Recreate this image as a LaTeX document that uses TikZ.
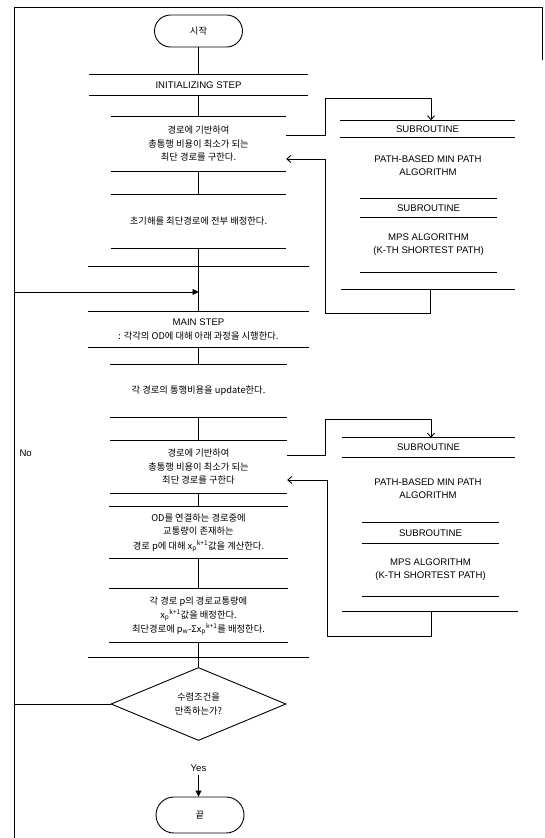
\documentclass[tikz,border=0pt]{standalone}
\usepackage{fontspec}
\setmainfont{Liberation Sans}
\newfontfamily\kr{Noto Sans CJK KR}
\newfontfamily\la{Liberation Sans}
\usetikzlibrary{arrows.meta,shapes.geometric,calc}
\newcommand\xp{x\textsubscript{p}\textsuperscript{k+1}}
\newcommand\bandlines[1]{\draw[ln] (#1.north west) -- (#1.north east) (#1.south west) -- (#1.south east);}
\begin{document}
\begin{tikzpicture}[x=1pt,y=-1pt,
  ln/.style={line width=0.9pt,draw=black},
  band/.style={draw=none,inner sep=0pt,align=center,font=\kr\fontsize{9.3}{13.5}\selectfont},
  lat/.style={font=\la\fontsize{9.6}{13}\selectfont},
  term/.style={draw,line width=0.9pt,rounded corners=16pt,minimum width=88pt,minimum height=32pt,inner sep=0pt,font=\kr\fontsize{9.3}{12}\selectfont},
  barb/.style={-{Straight Barb[length=4pt,width=7pt]}},
  tri/.style={-{Triangle[length=6pt,width=6pt]}},
]
\useasboundingbox[fill=white] (0,0) rectangle (544,838);
% frame
\draw[ln] (14,838) -- (14,7) -- (542,7) -- (542,60);

% main column
\node[term] (start) at (198.5,31) {시작};
\node[band,lat,minimum width=218pt,minimum height=20pt] (init) at (198.5,85) {INITIALIZING STEP};
\bandlines{init}
\node[band,minimum width=175pt,minimum height=54pt] (b1) at (198.5,144) {경로에 기반하여\\총통행 비용이 최소가 되는\\최단 경로를 구한다.};
\bandlines{b1}
\node[band,minimum width=175pt,minimum height=53pt] (b2) at (198.5,221.5) {초기해를 최단경로에 전부 배정한다.};
\bandlines{b2}
\node[band,minimum width=220pt,minimum height=45pt] (jn) at (198.5,289.5) {};
\draw[ln] (jn.north west) -- (jn.north east);
\node[band,minimum width=220pt,minimum height=35pt] (main) at (198.5,329.5) {{\la\fontsize{9.6}{12}\selectfont MAIN STEP}\\: 각각의 OD에 대해 아래 과정을 시행한다.};
\bandlines{main}
\node[band,minimum width=177pt,minimum height=52pt] (b3) at (198.5,391) {각 경로의 통행비용을 update한다.};
\bandlines{b3}
\node[band,minimum width=177pt,minimum height=52pt] (b4) at (198.5,467) {경로에 기반하여\\총통행 비용이 최소가 되는\\최단 경로를 구한다};
\bandlines{b4}
\node[band,minimum width=178pt,minimum height=51pt,font=\kr\fontsize{9.3}{13.5}\selectfont] (b5) at (198.5,532.5) {OD를 연결하는 경로중에\\교통량이 존재하는\\[1pt]경로 p에 대해 \xp 값을 계산한다.};
\bandlines{b5}
\node[band,minimum width=178pt,minimum height=53pt,font=\kr\fontsize{9.3}{13}\selectfont] (b6) at (198.5,615.5) {각 경로 p의 경로교통량에\\[1pt]\xp 값을 배정한다.\\[1pt]최단경로에 p\textsubscript{w}-Σ\xp 를 배정한다.};
\bandlines{b6}
\node[band,minimum width=220pt,minimum height=0pt] (jn2) at (198.5,657) {};
\draw[ln] (jn2.west) -- (jn2.east);
\node[diamond,ln,draw,minimum width=175pt,minimum height=73pt,inner sep=0pt,aspect=2.4,align=center,font=\kr\fontsize{9.3}{13.5}\selectfont] (dia) at (198.5,704) {수렴조건을\\만족하는가?};
\node[lat] (yes) at (198.5,768) {Yes};
\node[term,minimum height=36pt,rounded corners=18pt] (end) at (200,815) {끝};
\node[lat,anchor=west] (no) at (16,453) {No};

\draw[ln] (start) -- (init);
\draw[ln] (init) -- (b1);
\draw[ln] (b1) -- (b2);
\draw[ln] (b2) -- (main);
\draw[ln] (main) -- (b3);
\draw[ln] (b3) -- (b4);
\draw[ln] (b4) -- (b5);
\draw[ln] (b5) -- (b6);
\draw[ln] (b6) -- (dia);
\draw[ln,tri] (yes) -- (yes |- end.north);
\coordinate (nl) at (14,292);
\coordinate (m) at (198.5,292);
\draw[ln,tri] (dia.west) -| (nl) -- (m);

% right panel 1
\node[band,lat,minimum width=175pt,minimum height=17pt] (p1h) at (427.5,129) {SUBROUTINE};
\bandlines{p1h}
\node[band,lat,minimum width=137pt,minimum height=30pt] (p1a) at (428,165.5) {PATH-BASED MIN PATH\\ALGORITHM};
\node[band,lat,minimum width=137pt,minimum height=18pt] (p1s) at (428.5,208) {SUBROUTINE};
\bandlines{p1s}
\node[band,lat,minimum width=137pt,minimum height=55pt] (p1m) at (428.5,244.5) {MPS ALGORITHM\\(K-TH SHORTEST PATH)};
\draw[ln] (p1m.south west) -- (p1m.south east);
\node[band,minimum width=174pt,minimum height=0pt] (p1b) at (428,289) {};
\draw[ln] (p1b.west) -- (p1b.east);

\coordinate (r1) at (325,98);
\draw[ln,barb] ([yshift=9pt]b1.east) -| (r1) -| ([xshift=3.5pt]p1h.north);
\coordinate (r2) at (325,313);
\draw[ln,barb] ([xshift=2pt]p1b.center) |- (r2) |- ([yshift=-15pt]b1.east);

% right panel 2
\node[band,lat,minimum width=173pt,minimum height=19pt] (p2h) at (428.5,447.5) {SUBROUTINE};
\bandlines{p2h}
\node[band,lat,minimum width=137pt,minimum height=30pt] (p2a) at (428,488.5) {PATH-BASED MIN PATH\\ALGORITHM};
\node[band,lat,minimum width=137pt,minimum height=20pt] (p2s) at (430.5,533) {SUBROUTINE};
\bandlines{p2s}
\node[band,lat,minimum width=137pt,minimum height=53pt] (p2m) at (430.5,569.5) {MPS ALGORITHM\\(K-TH SHORTEST PATH)};
\draw[ln] (p2m.south west) -- (p2m.south east);
\node[band,minimum width=176pt,minimum height=0pt] (p2b) at (430,611) {};
\draw[ln] (p2b.west) -- (p2b.east);

\coordinate (r3) at (325,419);
\draw[ln,barb] ([yshift=12pt]b4.east) -| (r3) -| ([xshift=2.5pt]p2h.north);
\coordinate (r4) at (327,636);
\draw[ln,barb] ([xshift=1pt]p2b.center) |- (r4) |- ([yshift=-13pt]b4.east);
\end{tikzpicture}
\end{document}
